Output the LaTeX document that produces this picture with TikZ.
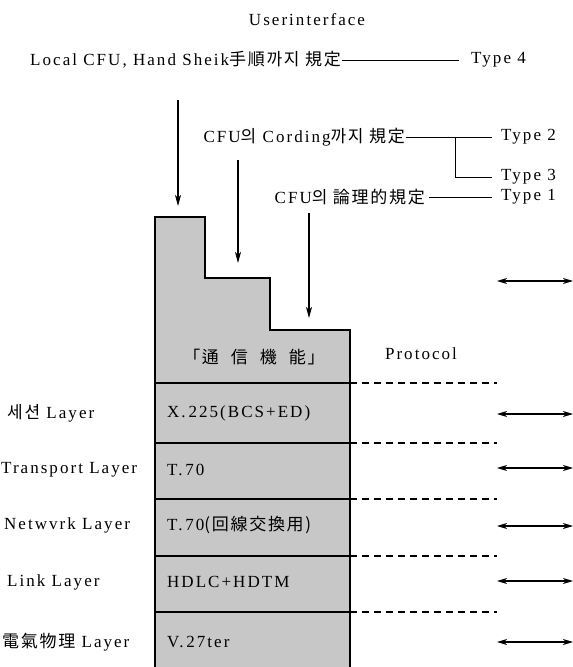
\documentclass[tikz,border=0pt]{standalone}
\usepackage{fontspec}
\setmainfont{Liberation Serif}[LetterSpace=12]
\newfontfamily\kr{Noto Sans CJK KR}[LetterSpace=10]
\usetikzlibrary{arrows.meta}
\tikzset{
  txt/.style={inner sep=1pt, font=\fontsize{17}{19}\selectfont},
  conn/.style={line width=0.9pt},
  downarrow/.style={line width=1.1pt, -{Stealth[length=11pt,width=6pt,inset=3pt]}},
  dblarrow/.style={line width=1.1pt, {Stealth[length=10pt,width=6pt,inset=3pt]}-{Stealth[length=10pt,width=6pt,inset=3pt]}},
  layerline/.style={line width=1.3pt},
  dashline/.style={line width=1.2pt, dash pattern=on 7pt off 5pt},
  stack/.style={fill=black!22, draw=black, line width=1.4pt}
}
\begin{document}
\begin{tikzpicture}[x=1pt,y=-1pt]
\useasboundingbox (0,0) rectangle (573,667);
% stepped box
\path[stack] (155,667) -- (155,217) -- (205,217) -- (205,278) -- (270,278) -- (270,330) -- (350,330) -- (350,667);
\foreach \yy in {383,443,499,556,612} \draw[layerline] (155,\yy) -- (350,\yy);
\foreach \yy in {383,443,499,556,612} \draw[dashline] (350,\yy) -- (497,\yy);

% top texts
\node[txt] (ui) at (307,20) {Userinterface};
\node[txt, anchor=east] (t4src) at (342,60) {Local CFU, Hand Sheik{\kr 手順까지 規定}};
\node[txt, anchor=west] (type4) at (470,60) {Type 4};
\draw[conn] (t4src.east) -- ([xshift=-11pt]type4.west);

\node[txt, anchor=east] (cord) at (406,137) {CFU{\kr 의} Cording{\kr 까지 規定}};
\node[txt, anchor=west] (type2) at (500,137) {Type 2};
\node[txt, anchor=west] (type3) at (500,177) {Type 3};
\draw[conn] (cord.east) -- ([xshift=-8pt]type2.west);
\coordinate (br) at (455,137);
\draw[conn] (br) |- ([xshift=-8pt]type3.west);

\node[txt, anchor=east] (logic) at (426,197) {CFU{\kr 의 論理的規定}};
\node[txt, anchor=west] (type1) at (500,197) {Type 1};
\draw[conn] ([xshift=3pt]logic.east) -- ([xshift=-8pt]type1.west);

% down arrows
\coordinate (a1s) at (178,100); \coordinate (a1e) at (178,206);
\coordinate (a2s) at (238,160); \coordinate (a2e) at (238,263);
\coordinate (a3s) at (309,213); \coordinate (a3e) at (309,318);
\draw[downarrow] (a1s) -- (a1e);
\draw[downarrow] (a2s) -- (a2e);
\draw[downarrow] (a3s) -- (a3e);

% box contents
\node[txt] (r0) at (254,357) {{\kr 「通\hspace{12pt}信\hspace{12pt}機\hspace{12pt}能」}};
\node[txt] (proto) at (421,354) {Protocol};
\node[txt, anchor=west] (r1) at (166,413) {X.\,225(BCS+ED)};
\node[txt, anchor=west] (r2) at (166,470) {T.\,70};
\node[txt, anchor=west] (r3) at (166,525) {T.\,70{\kr (回線交換用)}};
\node[txt, anchor=west] (r4) at (166,582) {HDLC+HDTM};
\node[txt, anchor=west] (r5) at (166,642) {V.\,27ter};

% left labels
\node[txt, anchor=west] (l1) at (6,413) {{\kr 세션} Layer};
\node[txt, anchor=west] (l2) at (0,470) {Transport Layer};
\node[txt, anchor=west] (l3) at (3,525) {Netwvrk Layer};
\node[txt, anchor=west] (l4) at (6,582) {Link Layer};
\node[txt, anchor=west] (l5) at (1,642) {{\kr 電氣物理} Layer};

% double arrows
\foreach \yy/\nm in {281/p0,414/p1,468/p2,526/p3,581/p4,642/p5} {
  \coordinate (\nm l) at (497,\yy);
  \coordinate (\nm r) at (573,\yy);
  \draw[dblarrow] (\nm l) -- (\nm r);
}
\end{tikzpicture}
\end{document}
